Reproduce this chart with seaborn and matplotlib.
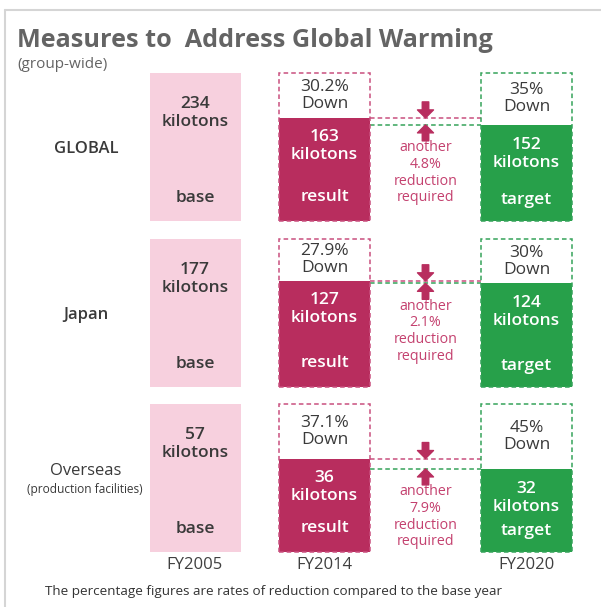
import numpy as np
import pandas as pd
import matplotlib
matplotlib.use("Agg")
import matplotlib.pyplot as plt
from matplotlib.lines import Line2D
import seaborn as sns

regions = ["GLOBAL", "Japan", "Overseas"]
region_notes = ["", "", "(production facilities)"]
years = ["FY2005", "FY2014", "FY2020"]
stages = ["base", "result", "target"]
base_kt = [234, 177, 57]
result_kt = [163, 127, 36]
target_kt = [152, 124, 32]
result_down = ["30.2%", "27.9%", "37.1%"]
target_down = ["35%", "30%", "45%"]
still_needed = ["4.8%", "2.1%", "7.9%"]

W, H = 601, 607
PINK = "#F7D0DE"
CRIMSON = "#B82D5E"
GREEN = "#27A04A"
PINK_DASH = "#C9507E"
GREEN_DASH = "#35A35A"
NOTE = "#C4416F"
DARK = "#3A3A3A"

sns.set_theme(style="white")
plt.rcParams["font.family"] = ["Open Sans", "DejaVu Sans"]

fig = plt.figure(figsize=(W / 100, H / 100), dpi=100)

# layout in pixels
row_top = [73, 239, 404]
bar_h = 148
ax_left, ax_right = 150, 572
col_x = [45, 174.5, 376.5]
bar_w = 91
dash = (0, (3, 2))


def pt(px):
    return px * 0.72


def put(ax, s, x, y, dy, color, size=12.5, weight="semibold"):
    ax.annotate(s, xy=(x, y), xytext=(0, pt(dy)), textcoords="offset points",
                ha="center", va="center", color=color, fontsize=size, fontweight=weight)


for i in range(3):
    ax = fig.add_axes([ax_left / W, 1 - (row_top[i] + bar_h) / H,
                       (ax_right - ax_left) / W, bar_h / H])
    vals = [base_kt[i], result_kt[i], target_kt[i]]
    df = pd.DataFrame({"x": col_x, "kt": vals, "stage": stages})
    sns.barplot(data=df, x="x", y="kt", hue="stage", palette=[PINK, CRIMSON, GREEN],
                native_scale=True, width=bar_w / (col_x[1] - col_x[0]), dodge=False,
                saturation=1, legend=False, linewidth=0, ax=ax, zorder=1)
    ax.set_xlim(0, ax_right - ax_left)
    ax.set_ylim(0, base_kt[i])
    ax.axis("off")

    # dashed outline of the base amount
    ax.bar(col_x[1:], [base_kt[i]] * 2, width=bar_w, fill=False,
           edgecolor=[PINK_DASH, GREEN_DASH], linestyle=dash, linewidth=1.1,
           clip_on=False, zorder=3)

    x0 = col_x[1] + bar_w / 2
    x1 = col_x[2] - bar_w / 2
    xm = (x0 + x1) / 2
    ax.plot([x0, x1], [result_kt[i]] * 2, color=PINK_DASH, ls=dash, lw=1.1, clip_on=False)
    ax.plot([x0, x1], [target_kt[i]] * 2, color=GREEN_DASH, ls=dash, lw=1.1, clip_on=False)

    arrow = dict(arrowstyle="simple,head_width=1.6,head_length=0.8,tail_width=0.65",
                 mutation_scale=pt(10), color=CRIMSON, shrinkA=0, shrinkB=0)
    ax.annotate("", xy=(xm, result_kt[i]), xytext=(0, pt(16)),
                textcoords="offset points", arrowprops=arrow)
    ax.annotate("", xy=(xm, target_kt[i]), xytext=(0, -pt(16)),
                textcoords="offset points", arrowprops=arrow)
    ax.annotate(f"another\n{still_needed[i]}\nreduction\nrequired", xy=(xm, target_kt[i]),
                xytext=(0, -pt(48)), textcoords="offset points", ha="center", va="center",
                color=NOTE, fontsize=10.3, linespacing=1.15)

    # texts inside the bars
    top_off = [-31, -19, -20]
    unit_off = [-49, -37, -38]
    low_off = [23, 24, 21]
    colors = [DARK, "white", "white"]
    for j in range(3):
        put(ax, str(vals[j]), col_x[j], vals[j], top_off[j], colors[j])
        put(ax, "kilotons", col_x[j], vals[j], unit_off[j], colors[j])
        put(ax, stages[j], col_x[j], 0, low_off[j], colors[j])

    for j, pct in [(1, result_down[i]), (2, target_down[i])]:
        mid = (vals[j] + base_kt[i]) / 2
        put(ax, pct, col_x[j], mid, 8.5, DARK, weight="normal")
        put(ax, "Down", col_x[j], mid, -8.5, DARK, weight="normal")

    # row label
    yc = 1 - (row_top[i] + bar_h / 2 + 2) / H
    if region_notes[i]:
        fig.text(86 / W, yc + 9 / H, regions[i], ha="center", va="center",
                 fontsize=12, color=DARK)
        fig.text(85 / W, yc - 9 / H, region_notes[i], ha="center", va="center",
                 fontsize=8.6, color=DARK)
    else:
        fig.text(86 / W, yc, regions[i], ha="center", va="center",
                 fontsize=12, fontweight="semibold", color=DARK)

    if i == 2:
        for j in range(3):
            ax.annotate(years[j], xy=(col_x[j], 0), xytext=(0, -pt(13)),
                        textcoords="offset points", ha="center", va="center",
                        fontsize=12, color="#404040")

fig.text(17 / W, 1 - 47 / H, "Measures to  Address Global Warming", ha="left",
         va="baseline", fontsize=18.2, fontweight="bold", color="#646464")
fig.text(17 / W, 1 - 65 / H, "(group-wide)", ha="left", va="center",
         fontsize=11, color="#646464")
fig.text(45 / W, 1 - 591 / H,
         "The percentage figures are rates of reduction compared to the base year",
         ha="left", va="center", fontsize=9.7, color="#333333")

fig.add_artist(Line2D([5 / W, 1], [1 - 10 / H] * 2, color="#D5D5D5", lw=1.5))
fig.add_artist(Line2D([5 / W] * 2, [1 - 10 / H, 0], color="#D5D5D5", lw=1.5))

fig.savefig("out.png", dpi=100)
